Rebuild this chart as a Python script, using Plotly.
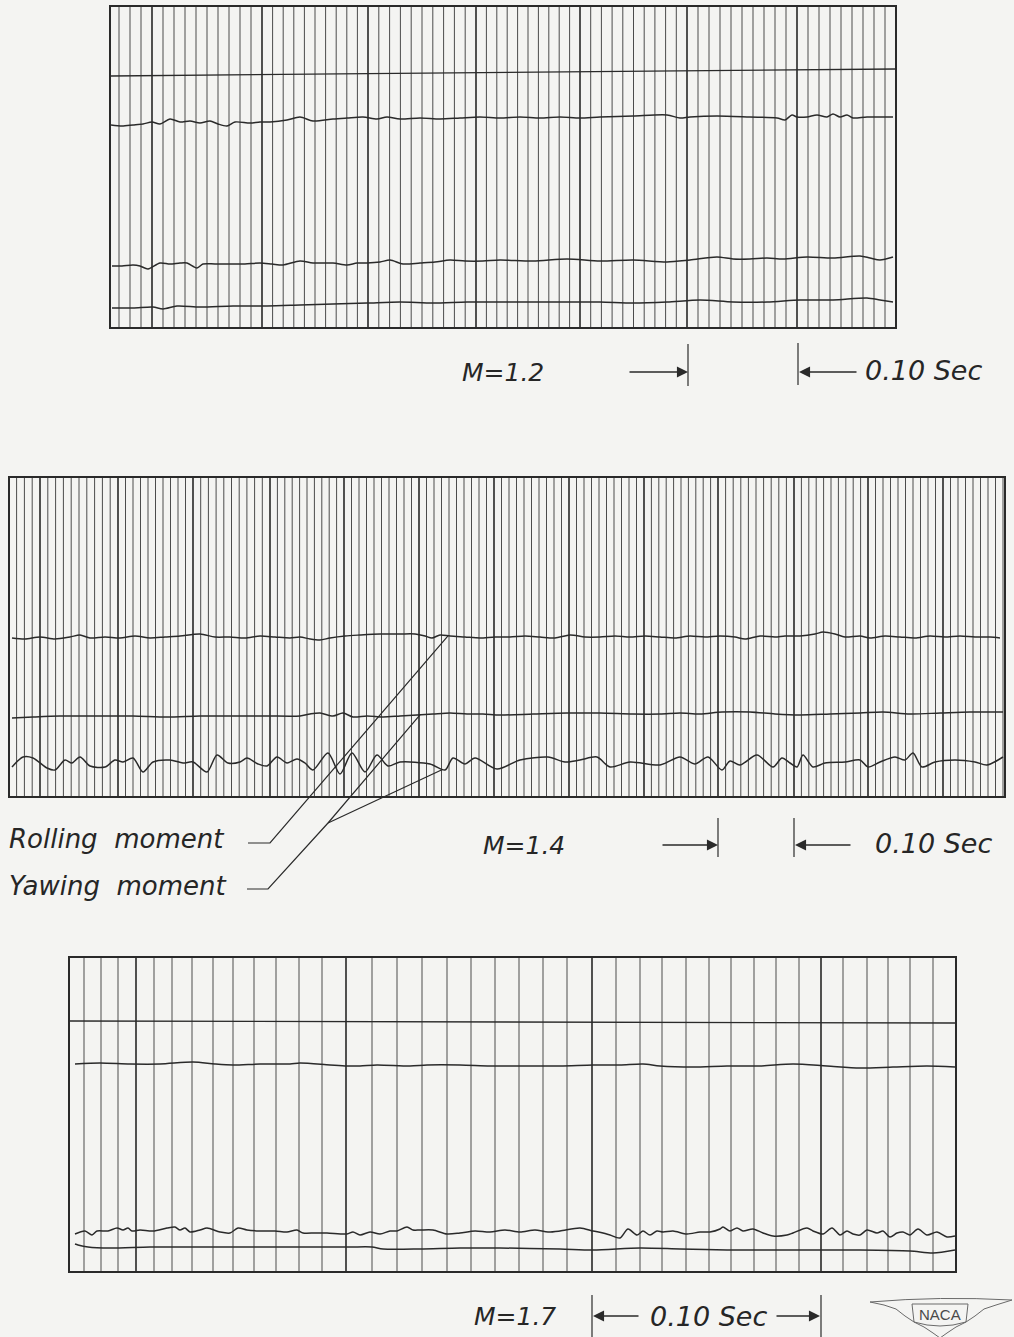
import numpy as np
import plotly.graph_objects as go

PAGE_W, PAGE_H = 1014, 1337
INK = "#2a2a2a"
GRID = "#4c4c4c"
PAPER = "#f4f4f2"
FONT = "DejaVu Sans"

# ---------------------------------------------------------------------------
# Oscillograph records.  x = position along the film, y = trace deflection
# above the lower edge of the record (same units on both axes).
# ---------------------------------------------------------------------------

# M = 1.2 record
m12_heavy_marks = [41, 151, 257, 365, 469, 576, 686]          # 0.10 s timer marks
m12_ref_x = [0, 784]
m12_ref_y = [251, 258]
m12_a_x = [0, 11, 22, 32, 41, 49, 59, 69, 79, 89, 99, 107, 116, 124, 139, 149, 159, 176, 189, 202,
           222, 236, 252, 266, 276, 289, 309, 329, 349, 369, 389, 409, 429, 449, 469, 489, 522, 556, 569, 579,
           606, 639, 666, 674, 681, 686, 696, 706, 716, 722, 729, 736, 742, 756, 782]
m12_a_y = [202, 201, 202, 203, 205, 203, 208, 205, 206, 204, 206, 203, 201, 205, 204, 205, 205, 207, 210, 206,
           208, 209, 210, 208, 210, 208, 209, 208, 209, 210, 209, 210, 209, 210, 209, 210, 211, 212, 209, 210,
           211, 210, 209, 207, 212, 210, 210, 212, 210, 213, 210, 212, 209, 210, 210]
m12_b_x = [1, 11, 22, 29, 37, 49, 59, 69, 76, 86, 92, 104, 122, 134, 149, 161, 172, 189, 202, 222,
           236, 246, 256, 269, 279, 292, 309, 324, 339, 354, 372, 389, 422, 456, 489, 522, 556, 579, 606, 622,
           639, 656, 672, 696, 722, 749, 759, 769, 782]
m12_b_y = [61, 61, 62, 61, 58, 64, 63, 64, 64, 59, 63, 63, 63, 63, 64, 63, 62, 66, 64, 64,
           62, 64, 64, 65, 67, 63, 64, 65, 67, 66, 66, 67, 66, 68, 66, 67, 65, 67, 70, 68,
           68, 69, 68, 70, 69, 71, 69, 67, 70]
m12_c_x = [1, 22, 42, 52, 66, 89, 122, 156, 189, 222, 256, 289, 322, 356, 389, 422, 456, 489, 522, 556,
           589, 622, 656, 689, 722, 756, 769, 782]
m12_c_y = [19, 19, 20, 18, 21, 20, 21, 21, 22, 23, 24, 25, 24, 25, 25, 25, 25, 25, 24, 25,
           27, 25, 25, 27, 27, 29, 27, 25]

# M = 1.4 record
m14_heavy_marks = [30, 108, 183, 260, 334, 409, 484, 559, 634, 708, 784, 858, 933]
m14_a_x = [2, 15, 30, 45, 60, 70, 80, 95, 110, 125, 140, 155, 170, 190, 205, 220, 235, 250, 265, 280,
           290, 300, 310, 320, 335, 350, 370, 390, 405, 415, 422, 430, 440, 455, 470, 485, 500, 515, 530, 545,
           560, 575, 590, 605, 620, 635, 650, 665, 680, 695, 710, 725, 735, 750, 765, 775, 790, 805, 813, 825,
           835, 850, 860, 875, 890, 905, 920, 935, 950, 965, 980, 990]
m14_a_y = [158, 157, 159, 157, 159, 161, 158, 159, 158, 160, 158, 159, 160, 162, 159, 159, 158, 160, 159, 158,
           159, 157, 156, 158, 160, 161, 162, 162, 162, 160, 158, 161, 160, 159, 158, 159, 159, 160, 159, 158,
           161, 159, 159, 160, 159, 160, 159, 158, 160, 159, 160, 159, 157, 160, 159, 160, 160, 162, 164, 162,
           159, 160, 158, 160, 159, 158, 160, 159, 160, 159, 159, 158]
m14_b_x = [2, 23, 50, 90, 123, 157, 190, 223, 257, 290, 300, 310, 323, 333, 343, 357, 373, 390, 407, 423,
           440, 457, 473, 490, 523, 557, 590, 623, 650, 670, 690, 712, 740, 765, 790, 820, 850, 873, 900, 930,
           960, 993]
m14_b_y = [78, 79, 80, 80, 80, 79, 80, 80, 80, 80, 82, 83, 80, 83, 79, 80, 79, 80, 81, 82,
           83, 82, 82, 81, 82, 83, 83, 82, 82, 83, 82, 84, 84, 82, 81, 82, 83, 84, 82, 83,
           84, 84]
m14_c_x = [2, 13, 23, 37, 45, 55, 62, 70, 80, 95, 105, 113, 123, 133, 143, 160, 173, 183, 197, 207,
           218, 230, 237, 248, 257, 267, 277, 287, 295, 303, 318, 330, 342, 355, 367, 378, 390, 420, 435, 443,
           455, 465, 487, 510, 538, 555, 570, 587, 600, 620, 650, 670, 685, 698, 712, 720, 730, 747, 763, 772,
           780, 787, 793, 803, 815, 835, 850, 858, 870, 885, 895, 903, 912, 925, 945, 965, 977, 993]
m14_c_y = [29, 39, 38, 28, 26, 36, 33, 39, 30, 29, 36, 34, 38, 24, 34, 36, 33, 34, 24, 41,
           33, 34, 38, 32, 30, 39, 33, 37, 33, 26, 43, 22, 43, 24, 41, 30, 34, 32, 26, 38,
           32, 38, 27, 36, 39, 34, 36, 39, 29, 34, 31, 39, 32, 39, 26, 35, 31, 41, 29, 38,
           33, 29, 41, 29, 33, 34, 36, 29, 34, 39, 36, 43, 29, 34, 36, 34, 31, 39]

# M = 1.7 record (film speed varies, so every 0.01 s mark is listed)
m17_heavy_marks = [66, 276, 522, 751]
m17_minor_marks = [14, 31, 48, 84, 102, 122, 143, 163, 184, 206, 229, 252, 302, 327, 352, 377, 401,
                   425, 449, 473, 497, 546, 570, 592, 616, 639, 661, 684, 706, 729, 773, 797, 818,
                   840, 863]
m17_ref_x = [0, 885]
m17_ref_y = [250, 248]
m17_a_x = [5, 30, 60, 90, 123, 145, 163, 190, 220, 230, 260, 277, 290, 307, 340, 357, 390, 420, 450, 490,
           523, 550, 573, 590, 623, 657, 690, 723, 757, 790, 823, 857, 885]
m17_a_y = [207, 208, 207, 207, 209, 207, 206, 207, 207, 208, 206, 205, 205, 206, 205, 206, 206, 205, 205, 205,
           206, 206, 207, 205, 204, 205, 205, 207, 205, 203, 204, 205, 204]
m17_b_x = [5, 15, 22, 27, 38, 47, 53, 58, 62, 70, 83, 97, 105, 110, 115, 120, 130, 137, 150, 160,
           168, 177, 190, 205, 217, 227, 233, 245, 257, 277, 283, 290, 300, 310, 320, 327, 337, 343, 350, 363,
           377, 390, 405, 420, 435, 450, 465, 478, 490, 510, 523, 533, 540, 550, 558, 567, 573, 580, 587, 593,
           603, 617, 630, 640, 650, 653, 660, 667, 673, 683, 693, 703, 717, 723, 737, 743, 753, 762, 770, 777,
           783, 790, 797, 807, 813, 820, 827, 833, 840, 848, 857, 867, 877, 885]
m17_b_y = [37, 40, 36, 40, 40, 43, 41, 43, 40, 41, 40, 43, 44, 41, 43, 39, 41, 43, 39, 38,
           43, 41, 40, 40, 39, 41, 38, 38, 38, 37, 39, 36, 39, 37, 40, 40, 44, 41, 41, 41,
           37, 38, 40, 39, 41, 39, 41, 39, 40, 43, 40, 38, 36, 33, 42, 36, 40, 36, 40, 39,
           40, 37, 39, 39, 42, 44, 40, 43, 40, 42, 38, 35, 36, 38, 43, 40, 37, 43, 36, 40,
           37, 36, 41, 38, 40, 34, 38, 39, 36, 42, 36, 39, 34, 35]
m17_c_x = [5, 8, 18, 40, 80, 120, 157, 200, 240, 280, 302, 313, 350, 390, 430, 490, 523, 570, 610, 657,
           720, 790, 840, 863, 885]
m17_c_y = [27, 26, 24, 23, 24, 24, 24, 24, 24, 24, 24, 22, 22, 23, 23, 22, 21, 23, 22, 21,
           21, 21, 20, 18, 21]

# Mach number of each record and the pair of timer marks spanning 0.10 s
mach_labels = ["M=1.2", "M=1.4", "M=1.7"]
interval_label = "0.10 Sec"
legend_labels = ["Rolling\u00a0\u00a0moment", "Yawing\u00a0\u00a0moment"]

# ---------------------------------------------------------------------------
# Page layout of the three records (pixels on the page)
# ---------------------------------------------------------------------------
PANELS = [
    dict(name="m12", left=111, right=895, top=7, bottom=327, xa="x", ya="y"),
    dict(name="m14", left=10, right=1004, top=478, bottom=796, xa="x2", ya="y2"),
    dict(name="m17", left=70, right=955, top=958, bottom=1271, xa="x3", ya="y3"),
]
for p in PANELS:
    p["w"] = p["right"] - p["left"]
    p["h"] = p["bottom"] - p["top"]


def px(panel, v):
    return panel["left"] + v


def py(panel, v):
    return panel["bottom"] - v


def subdivided_marks(heavy, length):
    """0.01 s marks between (and beyond) the 0.10 s marks."""
    marks = []
    for a, b in zip(heavy[:-1], heavy[1:]):
        step = (b - a) / 10.0
        marks += [a + k * step for k in range(1, 10)]
    step = (heavy[1] - heavy[0]) / 10.0
    m = heavy[0] - step
    while m > 2:
        marks.append(m)
        m -= step
    step = (heavy[-1] - heavy[-2]) / 10.0
    m = heavy[-1] + step
    while m < length - 0.5:
        marks.append(m)
        m += step
    return marks


def vlines(xs, height):
    x, y = [], []
    for v in xs:
        x += [v, v, None]
        y += [0, height, None]
    return x, y


fig = go.Figure()

records = [
    dict(heavy=m12_heavy_marks, minor=subdivided_marks(m12_heavy_marks, PANELS[0]["w"]),
         ref=(m12_ref_x, m12_ref_y),
         traces=[(m12_a_x, m12_a_y), (m12_b_x, m12_b_y), (m12_c_x, m12_c_y)]),
    dict(heavy=m14_heavy_marks, minor=subdivided_marks(m14_heavy_marks, PANELS[1]["w"]),
         ref=None,
         traces=[(m14_a_x, m14_a_y), (m14_b_x, m14_b_y), (m14_c_x, m14_c_y)]),
    dict(heavy=m17_heavy_marks, minor=m17_minor_marks,
         ref=(m17_ref_x, m17_ref_y),
         traces=[(m17_a_x, m17_a_y), (m17_b_x, m17_b_y), (m17_c_x, m17_c_y)]),
]

for panel, rec in zip(PANELS, records):
    ax = dict(xaxis=panel["xa"], yaxis=panel["ya"])
    mx, my = vlines(rec["minor"], panel["h"])
    fig.add_trace(go.Scatter(x=mx, y=my, mode="lines", line=dict(color=GRID, width=1),
                             hoverinfo="skip", **ax))
    hx, hy = vlines(rec["heavy"], panel["h"])
    fig.add_trace(go.Scatter(x=hx, y=hy, mode="lines", line=dict(color="#333333", width=1.7),
                             hoverinfo="skip", **ax))
    if rec["ref"] is not None:
        fig.add_trace(go.Scatter(x=rec["ref"][0], y=rec["ref"][1], mode="lines",
                                 line=dict(color=INK, width=1.3), hoverinfo="skip", **ax))
    for tx, ty in rec["traces"]:
        fig.add_trace(go.Scatter(x=tx, y=ty, mode="lines",
                                 line=dict(color=INK, width=1.5, shape="spline", smoothing=0.8),
                                 hoverinfo="skip", **ax))

# full-page overlay axis for the lettering and leader lines
fig.add_trace(go.Scatter(x=[0], y=[0], mode="markers", marker=dict(opacity=0),
                         hoverinfo="skip", xaxis="x4", yaxis="y4"))

shapes, annotations = [], []


def text(x, y, s, anchor="left", size=26):
    annotations.append(dict(x=x, y=y, xref="x4", yref="y4", text="<i>%s</i>" % s,
                            showarrow=False, xanchor=anchor, yanchor="middle",
                            font=dict(family=FONT, size=size, color="#262626")))


def arrow(x_head, x_tail, y):
    annotations.append(dict(x=x_head, y=y, ax=x_tail, ay=y, xref="x4", yref="y4",
                            axref="x4", ayref="y4", text="", showarrow=True,
                            arrowhead=2, arrowsize=1.7, arrowwidth=1.3,
                            arrowcolor=INK, standoff=0, startstandoff=0))


def seg(points, width=1.2):
    path = "M " + " L ".join("%g,%g" % p for p in points)
    shapes.append(dict(type="path", path=path, xref="x4", yref="y4",
                       line=dict(color=INK, width=width)))


# ---- 0.10 s interval markers under each record ----
p = PANELS[0]
t0, t1 = px(p, m12_heavy_marks[5]), px(p, m12_heavy_marks[6])
text(503, 372, mach_labels[0], anchor="center", size=25)
seg([(t0 + 1, 344), (t0 + 1, 386)])
seg([(t1 + 1, 343), (t1 + 1, 385)])
arrow(t0 + 1, 628, 372)
arrow(t1 + 2, 858, 372)
text(863, 370, interval_label, size=27)

p = PANELS[1]
t0, t1 = px(p, m14_heavy_marks[9]), px(p, m14_heavy_marks[10])
text(524, 845, mach_labels[1], anchor="center", size=25)
seg([(t0, 818), (t0, 857)])
seg([(t1, 818), (t1, 857)])
arrow(t0, 661, 845)
arrow(t1 + 1, 852, 845)
text(873, 843, interval_label, size=27)

p = PANELS[2]
t0, t1 = px(p, m17_heavy_marks[2]), px(p, m17_heavy_marks[3])
text(515, 1316, mach_labels[2], anchor="center", size=25)
seg([(t0, 1295), (t0, 1340)])
seg([(t1, 1295), (t1, 1340)])
arrow(t0 + 1, 640, 1316)
arrow(t1 - 1, 775, 1316)
text(708, 1316, interval_label, anchor="center", size=27)

# ---- leader lines from the legend to the M = 1.4 traces ----
p = PANELS[1]
roll_x = 438
roll_end = (px(p, roll_x), py(p, np.interp(roll_x, m14_a_x, m14_a_y)))
yaw_b_x, yaw_c_x = 410, 433
yaw_b_end = (px(p, yaw_b_x), py(p, np.interp(yaw_b_x, m14_b_x, m14_b_y)))
yaw_c_end = (px(p, yaw_c_x), py(p, np.interp(yaw_c_x, m14_c_x, m14_c_y)))
junction = (328, 823)
seg([(248, 843), (270, 843), roll_end])
seg([(247, 889), (268, 889), junction, yaw_b_end])
seg([junction, yaw_c_end])
text(7, 839, legend_labels[0], size=26)
text(7, 886, legend_labels[1], size=26)

# ---- NACA wing emblem ----
shapes.append(dict(type="path", xref="x4", yref="y4",
                   path=("M 870,1302 Q 940,1296 1012,1300 L 996,1305 L 984,1309 L 975,1316 "
                         "L 966,1322 L 956,1327 L 947,1333 L 940,1338 L 933,1333 L 924,1327 "
                         "L 914,1322 L 905,1316 L 896,1309 L 884,1305 Z"),
                   line=dict(color="#6a6a6a", width=1)))
shapes.append(dict(type="path", xref="x4", yref="y4",
                   path="M 912,1304 L 968,1304 L 966,1322 Q 940,1330 914,1322 Z",
                   line=dict(color="#6a6a6a", width=1)))
annotations.append(dict(x=940, y=1314, xref="x4", yref="y4", text="NACA", showarrow=False,
                        font=dict(family="Liberation Sans", size=15, color="#4a4a4a")))

# ---- axes ----
layout_axes = {}
for i, panel in enumerate(PANELS):
    suffix = "" if i == 0 else str(i + 1)
    layout_axes["xaxis" + suffix] = dict(
        domain=[panel["left"] / PAGE_W, panel["right"] / PAGE_W], range=[0, panel["w"]],
        anchor="y" + suffix, showgrid=False, zeroline=False, showticklabels=False, ticks="",
        showline=True, mirror=True, linecolor=INK, linewidth=1.5, fixedrange=True)
    layout_axes["yaxis" + suffix] = dict(
        domain=[1 - panel["bottom"] / PAGE_H, 1 - panel["top"] / PAGE_H], range=[0, panel["h"]],
        anchor="x" + suffix, showgrid=False, zeroline=False, showticklabels=False, ticks="",
        showline=True, mirror=True, linecolor=INK, linewidth=1.5, fixedrange=True)
layout_axes["xaxis4"] = dict(domain=[0, 1], range=[0, PAGE_W], anchor="y4", visible=False,
                             fixedrange=True)
layout_axes["yaxis4"] = dict(domain=[0, 1], range=[PAGE_H, 0], anchor="x4", visible=False,
                             fixedrange=True)

fig.update_layout(
    width=PAGE_W, height=PAGE_H, autosize=False,
    margin=dict(l=0, r=0, t=0, b=0, pad=0),
    paper_bgcolor=PAPER, plot_bgcolor="rgba(0,0,0,0)",
    showlegend=False, shapes=shapes, annotations=annotations,
    **layout_axes,
)

fig.write_html("out.html", config={"displayModeBar": False})
